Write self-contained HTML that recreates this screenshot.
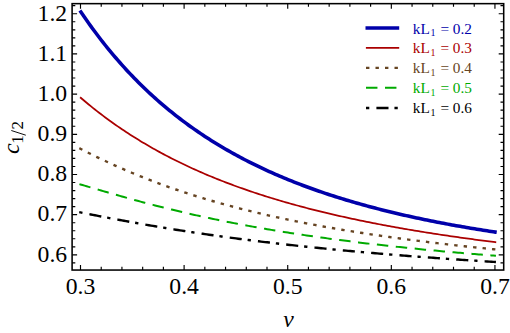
<!DOCTYPE html>
<html><head><meta charset="utf-8"><title>c1/2 vs nu</title><style>html,body{margin:0;padding:0;background:#fff;}body{width:510px;height:333px;overflow:hidden;font-family:"Liberation Serif",serif;}</style></head><body>
<svg width="510" height="333" viewBox="0 0 510 333" style="display:block;font-family:'Liberation Serif',serif">
<rect x="0" y="0" width="510" height="333" fill="#fff"/>
<polyline points="79.95,10.61 80.40,11.28 82.48,14.33 84.55,17.35 86.63,20.32 88.70,23.25 90.78,26.14 92.85,28.99 94.93,31.79 97.00,34.56 99.08,37.29 101.15,39.97 103.23,42.63 105.30,45.24 107.38,47.81 109.45,50.35 111.53,52.86 113.60,55.33 115.68,57.76 117.75,60.16 119.83,62.53 121.90,64.86 123.98,67.16 126.05,69.43 128.13,71.67 130.20,73.88 132.28,76.06 134.36,78.20 136.43,80.32 138.51,82.41 140.58,84.47 142.66,86.50 144.73,88.51 146.81,90.48 148.88,92.43 150.96,94.36 153.03,96.26 155.11,98.13 157.18,99.98 159.26,101.80 161.33,103.60 163.41,105.37 165.48,107.13 167.56,108.85 169.63,110.56 171.71,112.24 173.78,113.91 175.86,115.55 177.93,117.16 180.01,118.76 182.08,120.34 184.16,121.89 186.24,123.43 188.31,124.95 190.39,126.44 192.46,127.92 194.54,129.38 196.61,130.82 198.69,132.25 200.76,133.65 202.84,135.04 204.91,136.41 206.99,137.76 209.06,139.09 211.14,140.41 213.21,141.72 215.29,143.00 217.36,144.27 219.44,145.53 221.51,146.77 223.59,147.99 225.66,149.20 227.74,150.40 229.81,151.58 231.89,152.74 233.96,153.90 236.04,155.03 238.12,156.16 240.19,157.27 242.27,158.37 244.34,159.45 246.42,160.52 248.49,161.58 250.57,162.63 252.64,163.67 254.72,164.69 256.79,165.70 258.87,166.70 260.94,167.68 263.02,168.66 265.09,169.62 267.17,170.58 269.24,171.52 271.32,172.45 273.39,173.37 275.47,174.28 277.54,175.18 279.62,176.07 281.69,176.95 283.77,177.82 285.84,178.68 287.92,179.53 290.00,180.38 292.07,181.21 294.15,182.03 296.22,182.84 298.30,183.65 300.37,184.44 302.45,185.23 304.52,186.01 306.60,186.78 308.67,187.54 310.75,188.29 312.82,189.04 314.90,189.77 316.97,190.50 319.05,191.22 321.12,191.94 323.20,192.64 325.27,193.34 327.35,194.03 329.42,194.71 331.50,195.39 333.57,196.06 335.65,196.72 337.72,197.38 339.80,198.02 341.88,198.67 343.95,199.30 346.03,199.93 348.10,200.55 350.18,201.16 352.25,201.77 354.33,202.38 356.40,202.97 358.48,203.56 360.55,204.15 362.63,204.72 364.70,205.30 366.78,205.86 368.85,206.42 370.93,206.98 373.00,207.53 375.08,208.07 377.15,208.61 379.23,209.15 381.30,209.67 383.38,210.20 385.45,210.71 387.53,211.23 389.60,211.73 391.68,212.24 393.76,212.73 395.83,213.23 397.91,213.71 399.98,214.20 402.06,214.67 404.13,215.15 406.21,215.62 408.28,216.08 410.36,216.54 412.43,217.00 414.51,217.45 416.58,217.90 418.66,218.34 420.73,218.78 422.81,219.21 424.88,219.64 426.96,220.07 429.03,220.49 431.11,220.91 433.18,221.32 435.26,221.73 437.33,222.14 439.41,222.54 441.48,222.94 443.56,223.34 445.64,223.73 447.71,224.12 449.79,224.50 451.86,224.88 453.94,225.26 456.01,225.63 458.09,226.00 460.16,226.37 462.24,226.74 464.31,227.10 466.39,227.45 468.46,227.81 470.54,228.16 472.61,228.51 474.69,228.85 476.76,229.19 478.84,229.53 480.91,229.87 482.99,230.20 485.06,230.53 487.14,230.85 489.21,231.18 491.29,231.50 493.36,231.82 495.44,232.13 496.73,232.33" fill="none" stroke="#0000aa" stroke-width="3.55" stroke-linejoin="round"/>
<polyline points="80.10,97.26 80.40,97.52 82.48,99.29 84.55,101.04 86.63,102.77 88.70,104.48 90.78,106.17 92.85,107.83 94.93,109.48 97.00,111.11 99.08,112.72 101.15,114.31 103.23,115.88 105.30,117.43 107.38,118.96 109.45,120.47 111.53,121.97 113.60,123.45 115.68,124.91 117.75,126.35 119.83,127.78 121.90,129.18 123.98,130.58 126.05,131.95 128.13,133.31 130.20,134.65 132.28,135.98 134.36,137.29 136.43,138.59 138.51,139.87 140.58,141.13 142.66,142.38 144.73,143.62 146.81,144.84 148.88,146.05 150.96,147.24 153.03,148.42 155.11,149.58 157.18,150.74 159.26,151.88 161.33,153.00 163.41,154.12 165.48,155.22 167.56,156.30 169.63,157.38 171.71,158.44 173.78,159.49 175.86,160.53 177.93,161.56 180.01,162.58 182.08,163.58 184.16,164.58 186.24,165.56 188.31,166.53 190.39,167.49 192.46,168.45 194.54,169.39 196.61,170.32 198.69,171.24 200.76,172.15 202.84,173.05 204.91,173.94 206.99,174.82 209.06,175.69 211.14,176.55 213.21,177.40 215.29,178.25 217.36,179.08 219.44,179.91 221.51,180.72 223.59,181.53 225.66,182.33 227.74,183.12 229.81,183.91 231.89,184.68 233.96,185.45 236.04,186.21 238.12,186.96 240.19,187.71 242.27,188.44 244.34,189.17 246.42,189.89 248.49,190.61 250.57,191.31 252.64,192.01 254.72,192.71 256.79,193.39 258.87,194.07 260.94,194.74 263.02,195.41 265.09,196.07 267.17,196.72 269.24,197.37 271.32,198.01 273.39,198.64 275.47,199.27 277.54,199.89 279.62,200.50 281.69,201.11 283.77,201.72 285.84,202.31 287.92,202.91 290.00,203.49 292.07,204.07 294.15,204.65 296.22,205.22 298.30,205.78 300.37,206.34 302.45,206.90 304.52,207.44 306.60,207.99 308.67,208.53 310.75,209.06 312.82,209.59 314.90,210.11 316.97,210.63 319.05,211.15 321.12,211.66 323.20,212.16 325.27,212.66 327.35,213.16 329.42,213.65 331.50,214.14 333.57,214.62 335.65,215.10 337.72,215.57 339.80,216.04 341.88,216.51 343.95,216.97 346.03,217.43 348.10,217.88 350.18,218.33 352.25,218.78 354.33,219.22 356.40,219.66 358.48,220.09 360.55,220.52 362.63,220.95 364.70,221.37 366.78,221.79 368.85,222.21 370.93,222.62 373.00,223.03 375.08,223.44 377.15,223.84 379.23,224.24 381.30,224.63 383.38,225.03 385.45,225.42 387.53,225.80 389.60,226.18 391.68,226.56 393.76,226.94 395.83,227.31 397.91,227.68 399.98,228.05 402.06,228.42 404.13,228.78 406.21,229.14 408.28,229.49 410.36,229.84 412.43,230.19 414.51,230.54 416.58,230.89 418.66,231.23 420.73,231.57 422.81,231.90 424.88,232.24 426.96,232.57 429.03,232.90 431.11,233.22 433.18,233.55 435.26,233.87 437.33,234.19 439.41,234.50 441.48,234.81 443.56,235.13 445.64,235.43 447.71,235.74 449.79,236.04 451.86,236.35 453.94,236.65 456.01,236.94 458.09,237.24 460.16,237.53 462.24,237.82 464.31,238.11 466.39,238.40 468.46,238.68 470.54,238.96 472.61,239.24 474.69,239.52 476.76,239.80 478.84,240.07 480.91,240.34 482.99,240.61 485.06,240.88 487.14,241.15 489.21,241.41 491.29,241.67 493.36,241.93 495.44,242.19 496.23,242.29" fill="none" stroke="#aa0000" stroke-width="1.75" stroke-linejoin="round"/>
<polyline points="79.33,148.19 80.40,148.74 82.48,149.81 84.55,150.87 86.63,151.93 88.70,152.97 90.78,154.01 92.85,155.04 94.93,156.06 97.00,157.07 99.08,158.08 101.15,159.07 103.23,160.06 105.30,161.04 107.38,162.01 109.45,162.97 111.53,163.93 113.60,164.87 115.68,165.81 117.75,166.74 119.83,167.66 121.90,168.57 123.98,169.47 126.05,170.37 128.13,171.25 130.20,172.13 132.28,173.00 134.36,173.86 136.43,174.72 138.51,175.56 140.58,176.40 142.66,177.23 144.73,178.06 146.81,178.87 148.88,179.68 150.96,180.48 153.03,181.27 155.11,182.05 157.18,182.83 159.26,183.60 161.33,184.36 163.41,185.12 165.48,185.87 167.56,186.61 169.63,187.34 171.71,188.07 173.78,188.79 175.86,189.50 177.93,190.21 180.01,190.91 182.08,191.60 184.16,192.29 186.24,192.97 188.31,193.64 190.39,194.31 192.46,194.97 194.54,195.62 196.61,196.27 198.69,196.91 200.76,197.55 202.84,198.18 204.91,198.81 206.99,199.42 209.06,200.04 211.14,200.64 213.21,201.25 215.29,201.84 217.36,202.43 219.44,203.02 221.51,203.60 223.59,204.17 225.66,204.74 227.74,205.30 229.81,205.86 231.89,206.42 233.96,206.96 236.04,207.51 238.12,208.05 240.19,208.58 242.27,209.11 244.34,209.63 246.42,210.15 248.49,210.66 250.57,211.17 252.64,211.68 254.72,212.18 256.79,212.68 258.87,213.17 260.94,213.66 263.02,214.14 265.09,214.62 267.17,215.09 269.24,215.56 271.32,216.03 273.39,216.49 275.47,216.95 277.54,217.40 279.62,217.85 281.69,218.30 283.77,218.74 285.84,219.18 287.92,219.62 290.00,220.05 292.07,220.47 294.15,220.90 296.22,221.32 298.30,221.73 300.37,222.15 302.45,222.56 304.52,222.96 306.60,223.36 308.67,223.76 310.75,224.16 312.82,224.55 314.90,224.94 316.97,225.33 319.05,225.71 321.12,226.09 323.20,226.47 325.27,226.84 327.35,227.21 329.42,227.58 331.50,227.94 333.57,228.30 335.65,228.66 337.72,229.02 339.80,229.37 341.88,229.72 343.95,230.06 346.03,230.41 348.10,230.75 350.18,231.09 352.25,231.42 354.33,231.76 356.40,232.09 358.48,232.42 360.55,232.74 362.63,233.06 364.70,233.38 366.78,233.70 368.85,234.02 370.93,234.33 373.00,234.64 375.08,234.95 377.15,235.25 379.23,235.56 381.30,235.86 383.38,236.16 385.45,236.45 387.53,236.75 389.60,237.04 391.68,237.33 393.76,237.62 395.83,237.90 397.91,238.18 399.98,238.47 402.06,238.74 404.13,239.02 406.21,239.30 408.28,239.57 410.36,239.84 412.43,240.11 414.51,240.37 416.58,240.64 418.66,240.90 420.73,241.16 422.81,241.42 424.88,241.68 426.96,241.93 429.03,242.19 431.11,242.44 433.18,242.69 435.26,242.94 437.33,243.18 439.41,243.43 441.48,243.67 443.56,243.91 445.64,244.15 447.71,244.39 449.79,244.62 451.86,244.86 453.94,245.09 456.01,245.32 458.09,245.55 460.16,245.78 462.24,246.00 464.31,246.23 466.39,246.45 468.46,246.67 470.54,246.89 472.61,247.11 474.69,247.33 476.76,247.54 478.84,247.76 480.91,247.97 482.99,248.18 485.06,248.39 487.14,248.60 489.21,248.81 491.29,249.01 493.36,249.22 495.44,249.42 495.84,249.46" fill="none" stroke="#664422" stroke-width="2.4" stroke-dasharray="3.4 6.1" stroke-linejoin="round"/>
<polyline points="79.44,184.16 80.40,184.44 82.48,185.05 84.55,185.66 86.63,186.26 88.70,186.87 90.78,187.48 92.85,188.09 94.93,188.70 97.00,189.30 99.08,189.91 101.15,190.51 103.23,191.12 105.30,191.72 107.38,192.32 109.45,192.92 111.53,193.52 113.60,194.11 115.68,194.71 117.75,195.30 119.83,195.89 121.90,196.47 123.98,197.05 126.05,197.63 128.13,198.21 130.20,198.78 132.28,199.36 134.36,199.92 136.43,200.49 138.51,201.05 140.58,201.61 142.66,202.16 144.73,202.72 146.81,203.27 148.88,203.81 150.96,204.35 153.03,204.89 155.11,205.43 157.18,205.96 159.26,206.48 161.33,207.01 163.41,207.53 165.48,208.05 167.56,208.56 169.63,209.07 171.71,209.58 173.78,210.08 175.86,210.58 177.93,211.07 180.01,211.56 182.08,212.05 184.16,212.54 186.24,213.02 188.31,213.50 190.39,213.97 192.46,214.44 194.54,214.91 196.61,215.37 198.69,215.83 200.76,216.29 202.84,216.74 204.91,217.19 206.99,217.63 209.06,218.08 211.14,218.52 213.21,218.95 215.29,219.39 217.36,219.81 219.44,220.24 221.51,220.66 223.59,221.08 225.66,221.50 227.74,221.91 229.81,222.32 231.89,222.73 233.96,223.13 236.04,223.53 238.12,223.93 240.19,224.32 242.27,224.71 244.34,225.10 246.42,225.48 248.49,225.86 250.57,226.24 252.64,226.62 254.72,226.99 256.79,227.36 258.87,227.73 260.94,228.09 263.02,228.45 265.09,228.81 267.17,229.17 269.24,229.52 271.32,229.87 273.39,230.22 275.47,230.56 277.54,230.90 279.62,231.24 281.69,231.58 283.77,231.91 285.84,232.25 287.92,232.57 290.00,232.90 292.07,233.22 294.15,233.55 296.22,233.87 298.30,234.18 300.37,234.50 302.45,234.81 304.52,235.12 306.60,235.42 308.67,235.73 310.75,236.03 312.82,236.33 314.90,236.63 316.97,236.92 319.05,237.22 321.12,237.51 323.20,237.80 325.27,238.08 327.35,238.37 329.42,238.65 331.50,238.93 333.57,239.21 335.65,239.48 337.72,239.76 339.80,240.03 341.88,240.30 343.95,240.57 346.03,240.83 348.10,241.10 350.18,241.36 352.25,241.62 354.33,241.88 356.40,242.13 358.48,242.39 360.55,242.64 362.63,242.89 364.70,243.14 366.78,243.39 368.85,243.63 370.93,243.87 373.00,244.12 375.08,244.36 377.15,244.59 379.23,244.83 381.30,245.06 383.38,245.30 385.45,245.53 387.53,245.76 389.60,245.99 391.68,246.21 393.76,246.44 395.83,246.66 397.91,246.88 399.98,247.10 402.06,247.32 404.13,247.54 406.21,247.75 408.28,247.97 410.36,248.18 412.43,248.39 414.51,248.60 416.58,248.81 418.66,249.02 420.73,249.22 422.81,249.43 424.88,249.63 426.96,249.83 429.03,250.03 431.11,250.23 433.18,250.43 435.26,250.62 437.33,250.82 439.41,251.01 441.48,251.20 443.56,251.39 445.64,251.58 447.71,251.77 449.79,251.95 451.86,252.14 453.94,252.32 456.01,252.51 458.09,252.69 460.16,252.87 462.24,253.05 464.31,253.23 466.39,253.40 468.46,253.58 470.54,253.75 472.61,253.93 474.69,254.10 476.76,254.27 478.84,254.44 480.91,254.61 482.99,254.78 485.06,254.95 487.14,255.11 489.21,255.28 491.29,255.44 493.36,255.60 495.44,255.76 495.94,255.80" fill="none" stroke="#00aa00" stroke-width="2.0" stroke-dasharray="11.45 7.55" stroke-linejoin="round"/>
<polyline points="79.22,212.18 80.40,212.41 82.48,212.82 84.55,213.23 86.63,213.64 88.70,214.04 90.78,214.45 92.85,214.86 94.93,215.26 97.00,215.66 99.08,216.07 101.15,216.47 103.23,216.87 105.30,217.26 107.38,217.66 109.45,218.06 111.53,218.45 113.60,218.84 115.68,219.23 117.75,219.62 119.83,220.01 121.90,220.39 123.98,220.78 126.05,221.16 128.13,221.54 130.20,221.91 132.28,222.29 134.36,222.66 136.43,223.03 138.51,223.40 140.58,223.77 142.66,224.14 144.73,224.50 146.81,224.86 148.88,225.22 150.96,225.58 153.03,225.93 155.11,226.28 157.18,226.63 159.26,226.98 161.33,227.33 163.41,227.67 165.48,228.01 167.56,228.35 169.63,228.69 171.71,229.03 173.78,229.36 175.86,229.69 177.93,230.02 180.01,230.35 182.08,230.67 184.16,231.00 186.24,231.32 188.31,231.64 190.39,231.95 192.46,232.27 194.54,232.58 196.61,232.89 198.69,233.20 200.76,233.51 202.84,233.81 204.91,234.12 206.99,234.42 209.06,234.71 211.14,235.01 213.21,235.31 215.29,235.60 217.36,235.89 219.44,236.18 221.51,236.46 223.59,236.75 225.66,237.03 227.74,237.31 229.81,237.59 231.89,237.87 233.96,238.15 236.04,238.42 238.12,238.69 240.19,238.96 242.27,239.23 244.34,239.50 246.42,239.76 248.49,240.02 250.57,240.29 252.64,240.55 254.72,240.80 256.79,241.06 258.87,241.31 260.94,241.57 263.02,241.82 265.09,242.07 267.17,242.31 269.24,242.56 271.32,242.81 273.39,243.05 275.47,243.29 277.54,243.53 279.62,243.77 281.69,244.00 283.77,244.24 285.84,244.47 287.92,244.70 290.00,244.94 292.07,245.16 294.15,245.39 296.22,245.62 298.30,245.84 300.37,246.07 302.45,246.29 304.52,246.51 306.60,246.73 308.67,246.94 310.75,247.16 312.82,247.37 314.90,247.59 316.97,247.80 319.05,248.01 321.12,248.22 323.20,248.43 325.27,248.63 327.35,248.84 329.42,249.04 331.50,249.25 333.57,249.45 335.65,249.65 337.72,249.85 339.80,250.05 341.88,250.24 343.95,250.44 346.03,250.63 348.10,250.82 350.18,251.02 352.25,251.21 354.33,251.40 356.40,251.58 358.48,251.77 360.55,251.96 362.63,252.14 364.70,252.33 366.78,252.51 368.85,252.69 370.93,252.87 373.00,253.05 375.08,253.23 377.15,253.40 379.23,253.58 381.30,253.75 383.38,253.93 385.45,254.10 387.53,254.27 389.60,254.44 391.68,254.61 393.76,254.78 395.83,254.95 397.91,255.12 399.98,255.28 402.06,255.45 404.13,255.61 406.21,255.78 408.28,255.94 410.36,256.10 412.43,256.26 414.51,256.42 416.58,256.58 418.66,256.73 420.73,256.89 422.81,257.05 424.88,257.20 426.96,257.35 429.03,257.51 431.11,257.66 433.18,257.81 435.26,257.96 437.33,258.11 439.41,258.26 441.48,258.41 443.56,258.55 445.64,258.70 447.71,258.85 449.79,258.99 451.86,259.13 453.94,259.28 456.01,259.42 458.09,259.56 460.16,259.70 462.24,259.84 464.31,259.98 466.39,260.12 468.46,260.26 470.54,260.39 472.61,260.53 474.69,260.66 476.76,260.80 478.84,260.93 480.91,261.07 482.99,261.20 485.06,261.33 487.14,261.46 489.21,261.59 491.29,261.72 493.36,261.85 495.44,261.98 495.94,262.01" fill="none" stroke="#000000" stroke-width="2.4" stroke-dasharray="3.3 7.1 12.1 5.95" stroke-linejoin="round"/>
<rect x="72.1" y="3.65" width="431.60" height="266.40" fill="none" stroke="#000" stroke-width="1.55"/>
<path d="M80.50 270.05 v-5.0 M80.50 3.65 v5.0 M101.22 270.05 v-3.2 M101.22 3.65 v3.2 M121.94 270.05 v-3.2 M121.94 3.65 v3.2 M142.67 270.05 v-3.2 M142.67 3.65 v3.2 M163.39 270.05 v-3.2 M163.39 3.65 v3.2 M184.11 270.05 v-5.0 M184.11 3.65 v5.0 M204.83 270.05 v-3.2 M204.83 3.65 v3.2 M225.55 270.05 v-3.2 M225.55 3.65 v3.2 M246.28 270.05 v-3.2 M246.28 3.65 v3.2 M267.00 270.05 v-3.2 M267.00 3.65 v3.2 M287.72 270.05 v-5.0 M287.72 3.65 v5.0 M308.44 270.05 v-3.2 M308.44 3.65 v3.2 M329.16 270.05 v-3.2 M329.16 3.65 v3.2 M349.89 270.05 v-3.2 M349.89 3.65 v3.2 M370.61 270.05 v-3.2 M370.61 3.65 v3.2 M391.33 270.05 v-5.0 M391.33 3.65 v5.0 M412.05 270.05 v-3.2 M412.05 3.65 v3.2 M432.77 270.05 v-3.2 M432.77 3.65 v3.2 M453.50 270.05 v-3.2 M453.50 3.65 v3.2 M474.22 270.05 v-3.2 M474.22 3.65 v3.2 M494.94 270.05 v-5.0 M494.94 3.65 v5.0 M72.1 262.91 h3.2 M503.7 262.91 h-3.2 M72.1 254.87 h5.0 M503.7 254.87 h-5.0 M72.1 246.83 h3.2 M503.7 246.83 h-3.2 M72.1 238.79 h3.2 M503.7 238.79 h-3.2 M72.1 230.76 h3.2 M503.7 230.76 h-3.2 M72.1 222.72 h3.2 M503.7 222.72 h-3.2 M72.1 214.68 h5.0 M503.7 214.68 h-5.0 M72.1 206.64 h3.2 M503.7 206.64 h-3.2 M72.1 198.60 h3.2 M503.7 198.60 h-3.2 M72.1 190.57 h3.2 M503.7 190.57 h-3.2 M72.1 182.53 h3.2 M503.7 182.53 h-3.2 M72.1 174.49 h5.0 M503.7 174.49 h-5.0 M72.1 166.45 h3.2 M503.7 166.45 h-3.2 M72.1 158.41 h3.2 M503.7 158.41 h-3.2 M72.1 150.38 h3.2 M503.7 150.38 h-3.2 M72.1 142.34 h3.2 M503.7 142.34 h-3.2 M72.1 134.30 h5.0 M503.7 134.30 h-5.0 M72.1 126.26 h3.2 M503.7 126.26 h-3.2 M72.1 118.22 h3.2 M503.7 118.22 h-3.2 M72.1 110.19 h3.2 M503.7 110.19 h-3.2 M72.1 102.15 h3.2 M503.7 102.15 h-3.2 M72.1 94.11 h5.0 M503.7 94.11 h-5.0 M72.1 86.07 h3.2 M503.7 86.07 h-3.2 M72.1 78.03 h3.2 M503.7 78.03 h-3.2 M72.1 70.00 h3.2 M503.7 70.00 h-3.2 M72.1 61.96 h3.2 M503.7 61.96 h-3.2 M72.1 53.92 h5.0 M503.7 53.92 h-5.0 M72.1 45.88 h3.2 M503.7 45.88 h-3.2 M72.1 37.84 h3.2 M503.7 37.84 h-3.2 M72.1 29.81 h3.2 M503.7 29.81 h-3.2 M72.1 21.77 h3.2 M503.7 21.77 h-3.2 M72.1 13.73 h5.0 M503.7 13.73 h-5.0 M72.1 5.69 h3.2 M503.7 5.69 h-3.2" stroke="#000" stroke-width="1.15" fill="none"/>
<line x1="365.5" y1="28.0" x2="399.2" y2="28.0" stroke="#0000aa" stroke-width="3.55"/>
<line x1="365.9" y1="47.95" x2="399.2" y2="47.95" stroke="#aa0000" stroke-width="1.75"/>
<line x1="366.0" y1="67.9" x2="399.2" y2="67.9" stroke="#664422" stroke-width="2.4" stroke-dasharray="3.4 6.1"/>
<line x1="366.0" y1="87.8" x2="399.2" y2="87.8" stroke="#00aa00" stroke-width="2.0" stroke-dasharray="11.45 7.55"/>
<line x1="366.0" y1="108.0" x2="399.2" y2="108.0" stroke="#000000" stroke-width="2.4" stroke-dasharray="3.3 7.1 12.1 5.95"/>
<g font-family="'Liberation Serif',serif" font-size="23.7" fill="#000" text-anchor="end">
<text x="67.2" y="20.53">1.2</text>
<text x="67.2" y="60.72">1.1</text>
<text x="67.2" y="100.91">1.0</text>
<text x="67.2" y="141.1">0.9</text>
<text x="67.2" y="181.29">0.8</text>
<text x="67.2" y="221.48">0.7</text>
<text x="67.2" y="261.67">0.6</text>
</g>
<g font-family="'Liberation Serif',serif" font-size="23.7" fill="#000" text-anchor="middle">
<text x="80.5" y="294">0.3</text>
<text x="184.11" y="294">0.4</text>
<text x="287.72" y="294">0.5</text>
<text x="391.33" y="294">0.6</text>
<text x="494.94" y="294">0.7</text>
<text x="288.5" y="327.3" font-style="italic">ν</text>
</g>
<g transform="translate(19.2,137.2) rotate(-90)"><text x="-16.7" y="0" font-family="'Liberation Serif',serif" font-size="24" font-style="italic" fill="#000">c</text><text x="-6.6" y="4" font-family="'Liberation Serif',serif" font-size="17" fill="#000">1</text><text x="7.6" y="4" font-family="'Liberation Serif',serif" font-size="17" fill="#000">2</text><path d="M2.0 6.6 L6.7 -7.9" stroke="#000" stroke-width="0.95" fill="none"/></g>
<g font-family="'Liberation Serif',serif" font-size="15.3" fill="#0000aa"><text x="412.8" y="33.5">kL</text><text x="430.6" y="36.2" font-size="10">1</text><text x="440.4" y="33.5">= 0.2</text></g>
<g font-family="'Liberation Serif',serif" font-size="15.3" fill="#aa0000"><text x="412.8" y="53.4">kL</text><text x="430.6" y="56.1" font-size="10">1</text><text x="440.4" y="53.4">= 0.3</text></g>
<g font-family="'Liberation Serif',serif" font-size="15.3" fill="#664422"><text x="412.8" y="73.3">kL</text><text x="430.6" y="76" font-size="10">1</text><text x="440.4" y="73.3">= 0.4</text></g>
<g font-family="'Liberation Serif',serif" font-size="15.3" fill="#00aa00"><text x="412.8" y="92.85">kL</text><text x="430.6" y="95.55" font-size="10">1</text><text x="440.4" y="92.85">= 0.5</text></g>
<g font-family="'Liberation Serif',serif" font-size="15.3" fill="#000000"><text x="412.8" y="113.05">kL</text><text x="430.6" y="115.75" font-size="10">1</text><text x="440.4" y="113.05">= 0.6</text></g>
</svg>
</body></html>
